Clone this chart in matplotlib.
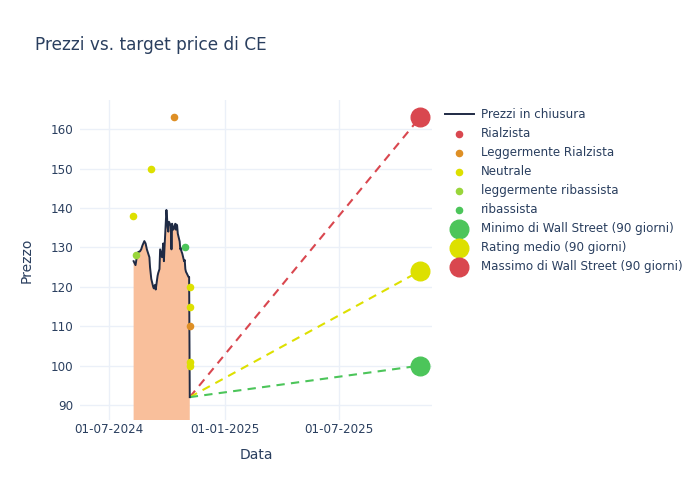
import matplotlib
matplotlib.use("Agg")
import matplotlib.pyplot as plt
import matplotlib.dates as mdates
import pandas as pd

# closing prices
date_prezzi = ["2024-08-09", "2024-08-12", "2024-08-14", "2024-08-16", "2024-08-19",
               "2024-08-21", "2024-08-23", "2024-08-26", "2024-08-28", "2024-08-30",
               "2024-09-03", "2024-09-04", "2024-09-06", "2024-09-09", "2024-09-10",
               "2024-09-12", "2024-09-13", "2024-09-16", "2024-09-17", "2024-09-19",
               "2024-09-20", "2024-09-23", "2024-09-25", "2024-09-26", "2024-09-27",
               "2024-09-30", "2024-10-01", "2024-10-02", "2024-10-03", "2024-10-04",
               "2024-10-07", "2024-10-08", "2024-10-09", "2024-10-10", "2024-10-11",
               "2024-10-14", "2024-10-15", "2024-10-16", "2024-10-17", "2024-10-18",
               "2024-10-21", "2024-10-22", "2024-10-23", "2024-10-24", "2024-10-25",
               "2024-10-28", "2024-10-29", "2024-10-30", "2024-10-31", "2024-11-01",
               "2024-11-04", "2024-11-05", "2024-11-06"]
prezzi = [126.5, 125.5, 127.5, 128.8, 129.0,
          129.5, 130.5, 131.6, 131.0, 129.5,
          127.5, 125.0, 122.0, 120.0, 119.6,
          120.5, 119.3, 122.8, 123.5, 124.5,
          129.5, 127.5, 131.0, 126.5, 130.0,
          139.5, 137.5, 135.0, 134.0, 136.5,
          135.5, 129.5, 136.0, 135.0, 134.5,
          136.0, 134.5, 135.8, 135.5, 133.5,
          131.5, 129.5, 129.8, 128.9, 128.5,
          126.5, 126.8, 124.5, 123.8, 123.5,
          122.5, 122.5, 92.0]

# analyst targets
rialzista_date, rialzista_val = [], []
legg_rialzista_date = ["2024-10-12", "2024-11-06"]
legg_rialzista_val = [163, 110]
neutrale_date = ["2024-08-08", "2024-09-06", "2024-11-06", "2024-11-06", "2024-11-06", "2024-11-06"]
neutrale_val = [138, 150, 120, 115, 101, 100]
legg_ribassista_date = ["2024-08-13"]
legg_ribassista_val = [128]
ribassista_date = ["2024-10-30"]
ribassista_val = [130]

target_date = "2025-11-06"
target_min = 100
target_medio = 124
target_max = 163

col_text = "#2A3F5F"
col_grid = "#EBF0F8"
c_red = "#D9474F"
c_orange = "#DE8F25"
c_yellow = "#DDE000"
c_lgreen = "#99D53A"
c_green = "#4CC55A"

d = pd.to_datetime(date_prezzi)
last_d = d[-1]
last_p = prezzi[-1]
t_d = pd.to_datetime(target_date)

fig = plt.figure(figsize=(7, 5), dpi=100)
ax = fig.add_axes([80 / 700, 1 - 420 / 500, (432 - 80) / 700, 320 / 500])

ax.fill_between(d, prezzi, 0, color="#F9BF9B", lw=0, zorder=1)
ax.plot(d, prezzi, color="#1F2A44", lw=1.4, label="Prezzi in chiusura", zorder=3)

ax.scatter(pd.to_datetime(rialzista_date), rialzista_val, s=20, color=c_red, label="Rialzista", zorder=4)
ax.scatter(pd.to_datetime(legg_rialzista_date), legg_rialzista_val, s=20, color=c_orange,
           label="Leggermente Rialzista", zorder=4)
ax.scatter(pd.to_datetime(neutrale_date), neutrale_val, s=20, color=c_yellow, label="Neutrale", zorder=4)
ax.scatter(pd.to_datetime(legg_ribassista_date), legg_ribassista_val, s=20, color=c_lgreen,
           label="leggermente ribassista", zorder=4)
ax.scatter(pd.to_datetime(ribassista_date), ribassista_val, s=20, color=c_green, label="ribassista", zorder=4)

for val, c in [(target_max, c_red), (target_medio, c_yellow), (target_min, c_green)]:
    ax.plot([last_d, t_d], [last_p, val], color=c, lw=1.5, dashes=(4, 3), zorder=2)

ax.scatter([t_d], [target_min], s=180, color=c_green, label="Minimo di Wall Street (90 giorni)", zorder=5)
ax.scatter([t_d], [target_medio], s=180, color=c_yellow, label="Rating medio (90 giorni)", zorder=5)
ax.scatter([t_d], [target_max], s=180, color=c_red, label="Massimo di Wall Street (90 giorni)", zorder=5)

ax.set_xlim(pd.Timestamp("2024-05-16"), pd.Timestamp("2025-11-25"))
ax.set_ylim(86.2, 167.4)
ax.set_yticks(range(90, 161, 10))
ax.xaxis.set_major_locator(mdates.MonthLocator(bymonth=[1, 7]))
ax.xaxis.set_major_formatter(mdates.DateFormatter("%d-%m-%Y"))

ax.grid(True, color=col_grid, lw=1)
ax.set_axisbelow(True)
for s in ax.spines.values():
    s.set_visible(False)
ax.tick_params(axis="both", length=0, labelsize=8.6, labelcolor=col_text, pad=5)
ax.tick_params(axis="x", pad=2)

ax.set_xlabel("Data", fontsize=10, color=col_text, labelpad=9)
ax.set_ylabel("Prezzo", fontsize=10, color=col_text, labelpad=12)

fig.text(35 / 700, 1 - 45 / 500, "Prezzi vs. target price di CE", fontsize=12.2,
         color=col_text, va="center", ha="left")

leg = ax.legend(loc="upper left", bbox_to_anchor=(445 / 700, 1 - 108 / 500),
                bbox_transform=fig.transFigure, frameon=False, fontsize=8.6,
                labelcolor=col_text, handlelength=2.4, handletextpad=0.6,
                labelspacing=0.5, borderaxespad=0, borderpad=0)

fig.savefig("out.png", dpi=100)
